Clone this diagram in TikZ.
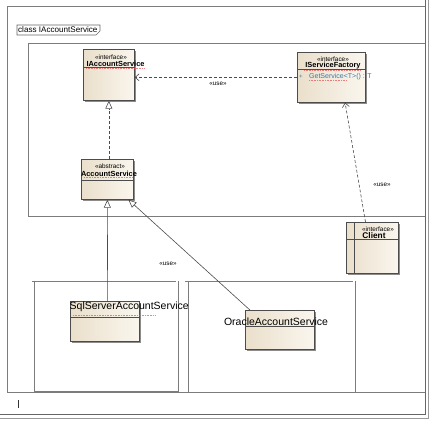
\documentclass[tikz,border=0pt]{standalone}
\usepackage{fontspec}
\setmainfont{Liberation Sans}
\usetikzlibrary{arrows.meta,calc,shadows}
\definecolor{boxl}{HTML}{EADFCB}
\definecolor{boxr}{HTML}{FAF6EE}
\definecolor{pgline}{HTML}{7C7C7C}
\definecolor{opc}{HTML}{3A78A6}
\definecolor{spell}{HTML}{E85050}
\begin{document}
\begin{tikzpicture}[x=1pt,y=-1pt,
  pg/.style={draw=pgline, line width=0.9pt},
  cls/.style={draw=black!70, line width=0.7pt, left color=boxl, right color=boxr,
    inner sep=0pt, anchor=north west,
    drop shadow={shadow xshift=1.5pt, shadow yshift=-1.5pt, fill=black!45, opacity=1}},
  sep/.style={draw=black!70, line width=0.6pt},
  st/.style={font=\fontsize{6.4}{7}\selectfont, inner sep=0pt},
  nm/.style={font=\fontsize{7.4}{8}\selectfont\bfseries, inner sep=0pt},
  big/.style={font=\fontsize{10.5}{12}\selectfont, inner sep=0pt},
  uselbl/.style={font=\fontsize{6.3}{7}\selectfont, inner sep=0pt},
  dep/.style={draw=black!70, line width=0.6pt, dash pattern=on 3pt off 2pt,
    -{Straight Barb[length=4pt,width=7pt]}},
  realz/.style={draw=black!70, line width=0.6pt, dash pattern=on 3pt off 2pt,
    -{Triangle[open,fill=white,length=8pt,width=7pt]}},
  gen/.style={draw=black!70, line width=0.6pt,
    -{Triangle[open,fill=white,length=8pt,width=7pt]}},
  sq/.style={draw=spell, line width=0.3pt, opacity=0.7, dash pattern=on 0.7pt off 0.9pt},
]
\useasboundingbox (0,0) rectangle (432,422);
\fill[white] (0,0) rectangle (432,422);

% page frames
\draw[pg] (7,392) -- (7,6) -- (425,6);
\draw[pg] (7,392) -- (425,392);
\draw[black!60, line width=1pt] (425,0) -- (425,415) -- (0,415);
\draw[black!40, line width=1.6pt] (428.5,0) -- (428.5,418.5) -- (0,418.5);
\draw[black!80, line width=0.6pt] (18,400) -- (18,408);

% diagram tab
\draw[black!60, line width=0.6pt, fill=white] (17,25) -- (100,25) -- (100,31) -- (96,35) -- (17,35) -- cycle;
\node[font=\fontsize{8.1}{9}\selectfont, inner sep=0pt, anchor=west] (title) at (18,30) {class IAccountService};

% package frames
\draw[pg] (425,43) -- (28,43) -- (28,216) -- (425,216);
\draw[pg] (32,281) -- (176,281);
\draw[pg] (34,281) -- (34,391) -- (178,391) -- (178,281);
\draw[pg] (185,281) -- (353,281);
\draw[pg] (188,281) -- (188,392);
\draw[pg] (355,281) -- (355,392);

% IAccountService
\node[cls, minimum width=51pt, minimum height=51pt] (ias) at (83,49) {};
\draw[sep] (83,67) -- (134,67);
\node[st] (iasst) at (111,57) {«interface»};
\node[nm] (iasnm) at (115.5,63.5) {IAccountService};
\draw[sq] (86,68.5) -- (145,68.5);

% AccountService
\node[cls, minimum width=52pt, minimum height=40pt] (acs) at (81,159) {};
\draw[sep] (81,180) -- (133,180);
\node[st] (acsst) at (110,166) {«abstract»};
\node[nm] (acsnm) at (109,173.5) {AccountService};
\draw[sq] (84,177.5) -- (133,177.5);

% IServiceFactory
\node[cls, minimum width=68pt, minimum height=50pt] (fac) at (297,52) {};
\draw[sep] (297,69) -- (365,69);
\node[st] (facst) at (333,59) {«interface»};
\node[nm] (facnm) at (333,66) {IServiceFactory};
\draw[sq] (304,70.5) -- (361,70.5);
\node[font=\fontsize{6}{7}\selectfont, text=opc, inner sep=0pt] (facplus) at (301,77) {+};
\node[font=\fontsize{7}{8}\selectfont, text=opc, inner sep=0pt, anchor=west] (facop) at (309,77) {GetService<T>() : T};
\draw[sq] (309,80.5) -- (347,80.5);

% Client
\node[cls, minimum width=52pt, minimum height=51pt] (cl) at (346,222) {};
\draw[sep] (346,222) rectangle (354,273);
\draw[sep] (346,239) -- (398,239);
\node[st] (clst) at (378,229) {«interface»};
\node[font=\fontsize{8.3}{9}\selectfont\bfseries, inner sep=0pt] (clnm) at (374,236) {Client};

% SqlServerAccountService
\node[cls, minimum width=69pt, minimum height=40pt] (sql) at (70,301) {};
\draw[sep] (70,317) -- (139,317);
\node[big, anchor=west] (sqlnm) at (69.5,306.5) {SqlServerAccountService};
\draw[sq] (73,315) -- (155,315);

% OracleAccountService
\node[cls, minimum width=69pt, minimum height=39pt] (ora) at (245,310) {};
\draw[sep] (245,326) -- (314,326);
\node[big] (oranm) at (276,321.5) {OracleAccountService};

% connectors
\draw[dep] (fac.west) -- (ias.east |- fac.west);
\node[uselbl] (use1) at (218,84) {«use»};
\draw[dep] ($(cl.north west)!0.37!(cl.north east)$) -- ($(fac.south west)!0.7!(fac.south east)$);
\node[uselbl] (use2) at (382,185) {«use»};
\draw[realz] (acs.north -| ias.south) -- (ias.south);
\draw[gen] ($(sql.north west)!0.54!(sql.north east)$) -- (acs.south);
\draw[gen] ($(ora.north west)!0.07!(ora.north east)$) -- ($(acs.south west)!0.9!(acs.south east)$);
\node[uselbl] (use3) at (168,264) {«use»};
\end{tikzpicture}
\end{document}
